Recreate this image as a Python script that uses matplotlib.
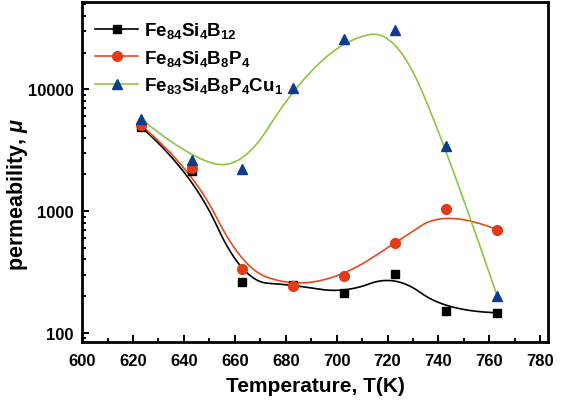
import numpy as np
import matplotlib
matplotlib.use('Agg')
import matplotlib.pyplot as plt
from matplotlib.lines import Line2D
from matplotlib.ticker import LogLocator, MultipleLocator, NullFormatter, FixedLocator

plt.rcParams['font.family'] = ['Liberation Sans', 'DejaVu Sans']
plt.rcParams['font.weight'] = 'bold'
plt.rcParams['mathtext.fontset'] = 'custom'
plt.rcParams['mathtext.rm'] = 'Liberation Sans:bold'
plt.rcParams['mathtext.it'] = 'Liberation Sans:italic'
plt.rcParams['mathtext.bf'] = 'Liberation Sans:bold'

# annealing temperature (K)
temp = [623, 643, 663, 683, 703, 723, 743, 763]

# permeability of each alloy
mu_fesib = [4950, 2140, 263, 247, 211, 303, 150, 146]
mu_fesibp = [5100, 2280, 335, 241, 295, 547, 1038, 703]
mu_fesibpcu = [5750, 2650, 2230, 10300, 25800, 31000, 3400, 202]

labels = [r'Fe$_{84}$Si$_{4}$B$_{12}$',
          r'Fe$_{84}$Si$_{4}$B$_{8}$P$_{4}$',
          r'Fe$_{83}$Si$_{4}$B$_{8}$P$_{4}$Cu$_{1}$']


def bspline(xs, ys, n=300, k=2):
    # clamped B-spline with the data points as control points (log y)
    P = np.column_stack([xs, np.log10(ys)])
    m = len(P)
    inner = np.linspace(0, 1, m - k + 1)[1:-1]
    knots = np.concatenate([np.zeros(k + 1), inner, np.ones(k + 1)])
    t = np.linspace(0, 1, n)
    t[-1] = 1 - 1e-12

    def basis(i, d):
        if d == 0:
            return ((knots[i] <= t) & (t < knots[i + 1])).astype(float)
        out = np.zeros_like(t)
        if knots[i + d] > knots[i]:
            out += (t - knots[i]) / (knots[i + d] - knots[i]) * basis(i, d - 1)
        if knots[i + d + 1] > knots[i + 1]:
            out += (knots[i + d + 1] - t) / (knots[i + d + 1] - knots[i + 1]) * basis(i + 1, d - 1)
        return out

    B = np.array([basis(i, k) for i in range(m)])
    C = B.T @ P
    return C[:, 0], 10 ** C[:, 1]


fig = plt.figure(figsize=(5.62, 4.02), dpi=100)
ax = fig.add_axes([0.146, 0.147, 0.829, 0.8455])

series = [
    (mu_fesib, 'black', 'black', 's', 6),
    (mu_fesibp, '#E8481F', '#E43A17', 'o', 7),
    (mu_fesibpcu, '#8DC63F', '#0B3C8F', '^', 7.5),
]
handles = []
for (vals, lc, mc, mk, ms), lab in zip(series, labels):
    cx, cy = bspline(temp, vals)
    ax.plot(cx, cy, color=lc, lw=1.2, zorder=2)
    ax.plot(temp, vals, linestyle='none', marker=mk, ms=ms, color=mc, mec=mc, zorder=3)
    handles.append(Line2D([], [], color=lc, lw=1.2, marker=mk, ms=ms, mfc=mc, mec=mc, label=lab))

ax.set_yscale('log')
ax.set_xlim(600, 783)
ax.set_ylim(84, 52400)
ax.xaxis.set_major_locator(MultipleLocator(20))
ax.xaxis.set_minor_locator(MultipleLocator(10))
ax.yaxis.set_major_locator(FixedLocator([100, 1000, 10000]))
ax.yaxis.set_minor_locator(LogLocator(base=10, subs=np.arange(2, 10)))
ax.yaxis.set_minor_formatter(NullFormatter())
ax.set_yticklabels(['100', '1000', '10000'])

ax.tick_params(which='both', direction='in', top=False, right=False, width=1.4, labelsize=12)
ax.tick_params(which='major', length=5)
ax.tick_params(which='minor', length=3)
ax.tick_params(axis='x', pad=8)
ax.tick_params(axis='y', pad=6)
for s in ax.spines.values():
    s.set_linewidth(2)

ax.set_xlabel('Temperature, T(K)', fontsize=15, fontweight='bold', labelpad=6)
ax.set_ylabel(r'permeability, $\mu$', fontsize=15.5, fontweight='bold')
ax.yaxis.set_label_coords(-0.112, 0.437)

ax.legend(handles=handles, loc='upper left', frameon=False, fontsize=13.5,
          handlelength=2.3, handletextpad=0.3, labelspacing=0.4,
          borderaxespad=0.3, bbox_to_anchor=(0.0, 0.985))

fig.savefig('out.png', dpi=100)
